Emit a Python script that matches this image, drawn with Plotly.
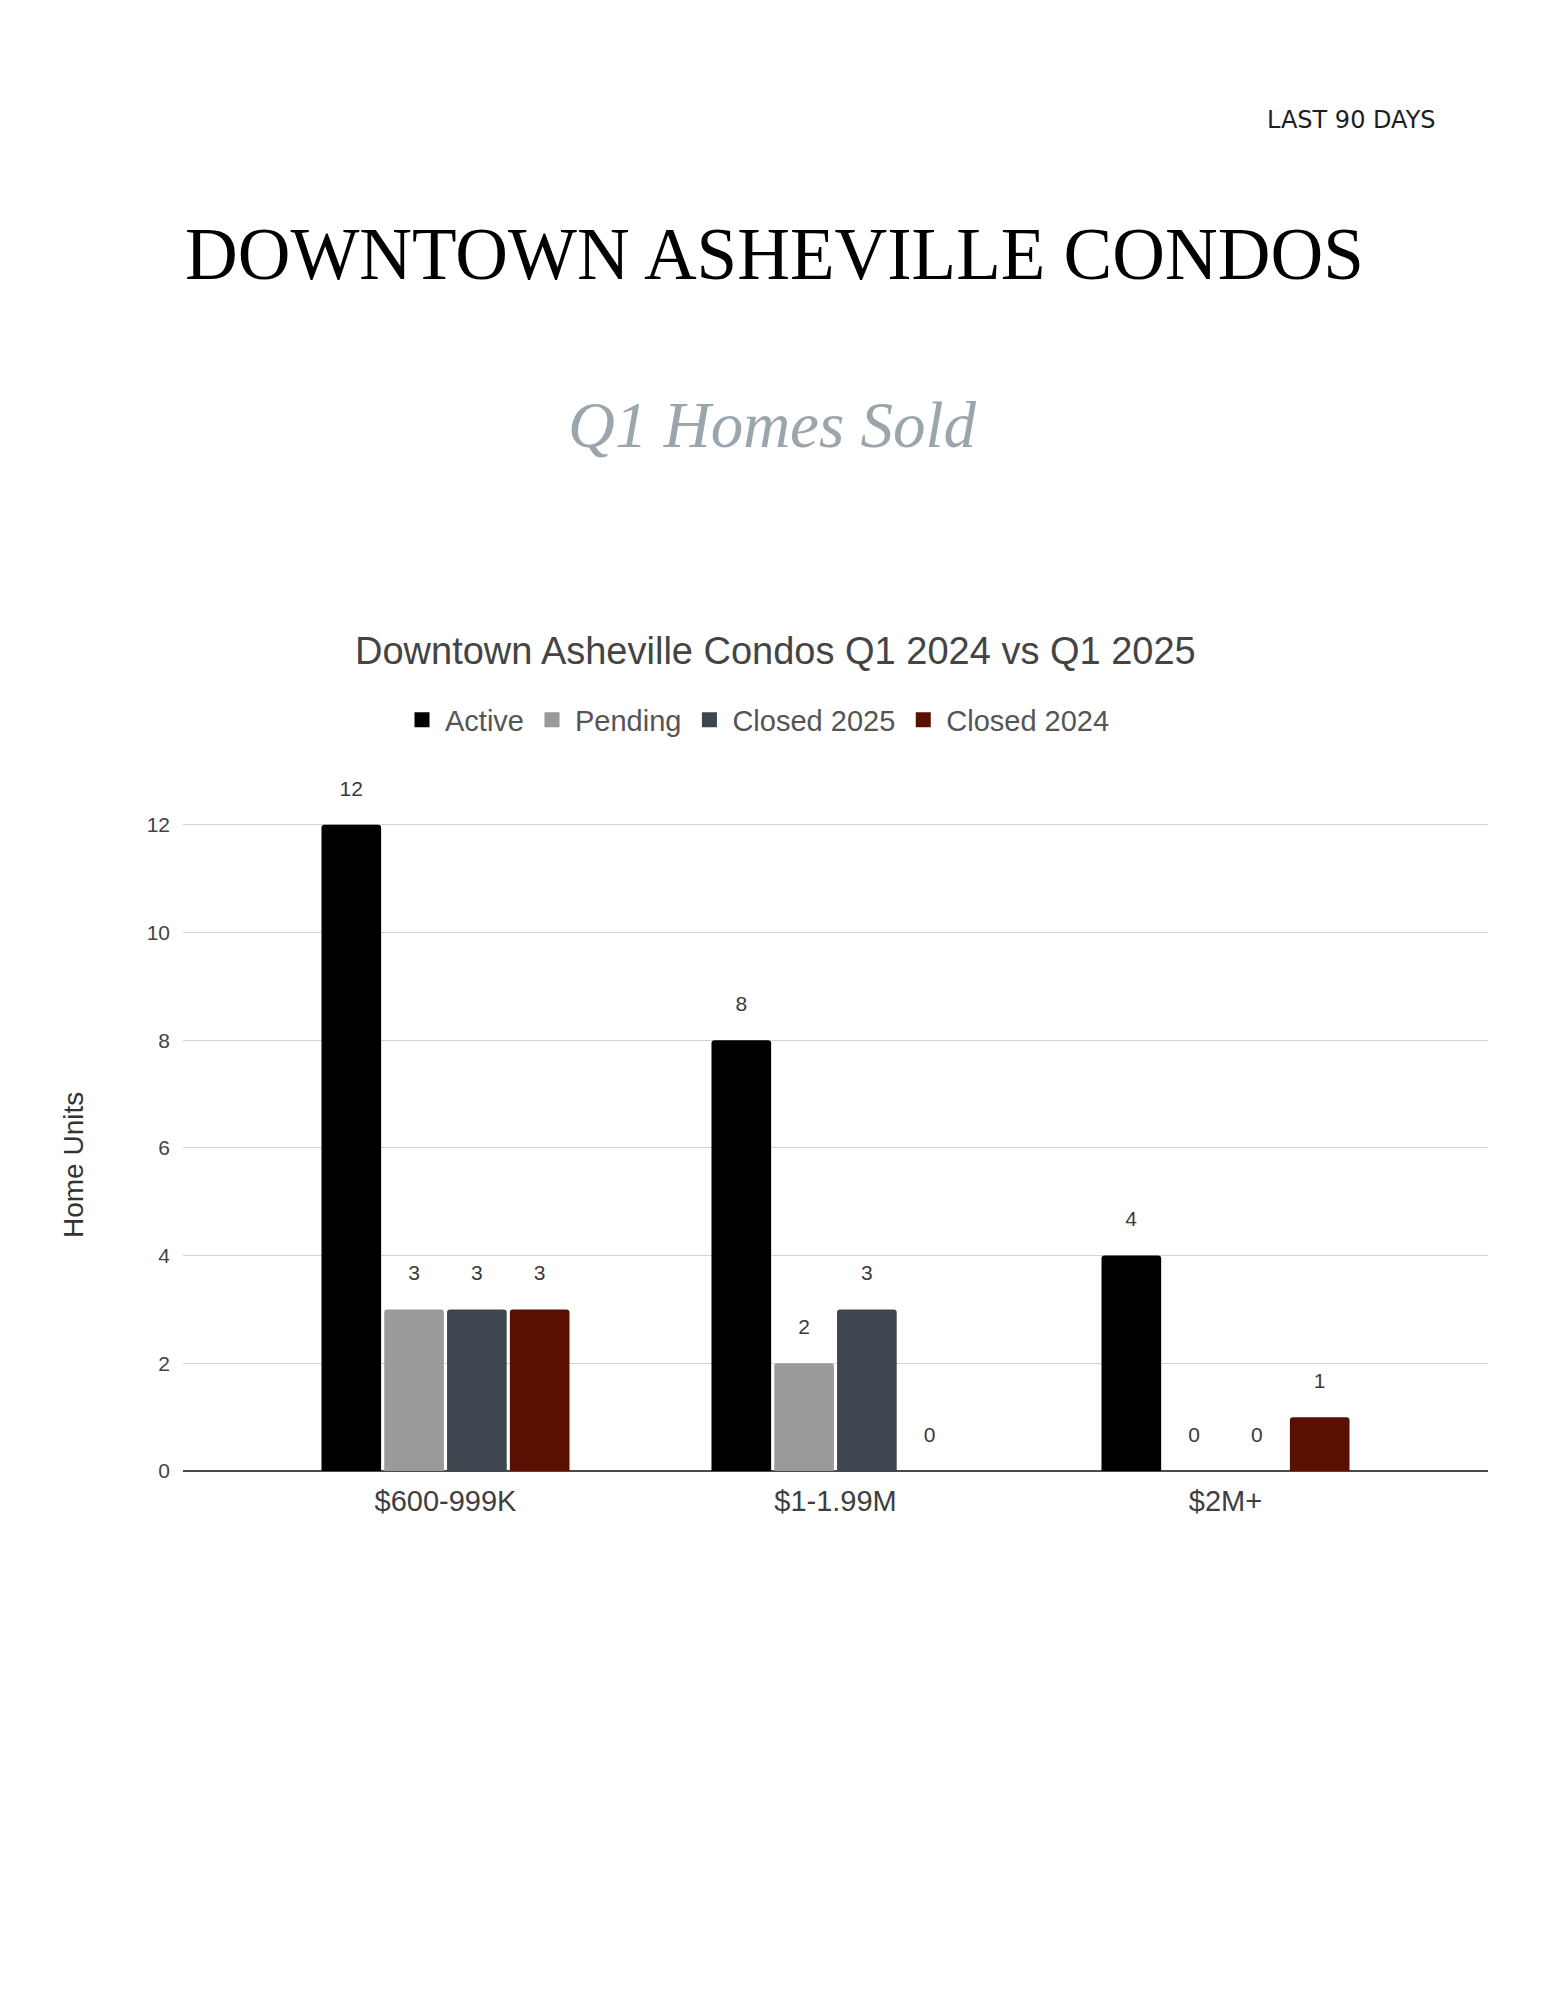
import plotly.graph_objects as go

# ---- data ----
categories = ["$600-999K", "$1-1.99M", "$2M+"]
active = [12, 8, 4]
pending = [3, 2, 0]
closed_2025 = [3, 3, 0]
closed_2024 = [3, 0, 1]

series_names = ["Active", "Pending", "Closed 2025", "Closed 2024"]
series_values = [active, pending, closed_2025, closed_2024]
series_colors = ["#000000", "#9a9a9a", "#3f4650", "#5a1000"]

y_ticks = [0, 2, 4, 6, 8, 10, 12]

# ---- layout geometry (page pixels) ----
OFF = 8
W, H = 1545 - 2 * OFF, 2000 - 2 * OFF
PL, PR, PT, PB = 183 - OFF, 1488 - OFF, 744 - OFF, 1471 - OFF


def px_x(x):
    return (x - OFF - PL) / (PR - PL)


def px_y(y):
    return (PB - (y - OFF)) / (PB - PT)


SANS = "Liberation Sans, Arial, sans-serif"
SERIF = "Liberation Serif, Times New Roman, serif"

fig = go.Figure()
for name, vals, col in zip(series_names, series_values, series_colors):
    fig.add_trace(go.Bar(
        name=name,
        x=categories,
        y=vals,
        marker=dict(color=col, line=dict(width=0), cornerradius=3),
        text=[f"<span style='font-size:21px'>{v}</span><br>\u00a0" for v in vals],
        texttemplate="%{text}",
        textposition="outside",
        outsidetextfont=dict(family=SANS, size=17, color="#3a3a3a"),
        cliponaxis=False,
        hoverinfo="skip",
        showlegend=False,
        legendgroup=name,
    ))
# legend entries (square swatches)
for name, col in zip(series_names, series_colors):
    fig.add_trace(go.Scatter(
        name=name,
        x=[None], y=[None],
        mode="markers",
        marker=dict(symbol="square", size=15, color=col, line=dict(width=0)),
        legendgroup=name,
        hoverinfo="skip",
    ))

annotations = [
    dict(text="LAST 90 DAYS", x=px_x(1438), y=px_y(120), xanchor="right", yanchor="middle",
         font=dict(family="DejaVu Sans, sans-serif", size=24, color="#1e1e1e")),
    dict(text="DOWNTOWN ASHEVILLE CONDOS", x=px_x(774), y=px_y(255), xanchor="center", yanchor="middle",
         font=dict(family=SERIF, size=73, color="#000000")),
    dict(text="Q1 Homes Sold", x=px_x(772), y=px_y(425), xanchor="center", yanchor="middle",
         font=dict(family=SERIF, size=65, color="#9ba5ac", style="italic")),
    dict(text="Downtown Asheville Condos Q1 2024 vs Q1 2025", x=px_x(775), y=px_y(651),
         xanchor="center", yanchor="middle",
         font=dict(family=SANS, size=38, color="#444444")),
    dict(text="Home Units", x=px_x(73), y=px_y(1165), xanchor="center", yanchor="middle", textangle=-90,
         font=dict(family=SANS, size=28, color="#333333")),
]
for a in annotations:
    a.update(xref="paper", yref="paper", showarrow=False)

fig.update_layout(
    width=W, height=H,
    margin=dict(l=PL, r=W - PR, t=PT, b=H - PB, pad=0),
    paper_bgcolor="#ffffff",
    plot_bgcolor="#ffffff",
    barmode="group",
    bargap=0.356,
    bargroupgap=0.05,
    showlegend=True,
    legend=dict(orientation="h", x=px_x(757), y=px_y(720), xanchor="center", yanchor="middle",
                font=dict(family=SANS, size=29, color="#555555"),
                itemwidth=36, traceorder="normal", bgcolor="rgba(0,0,0,0)"),
    annotations=annotations,
    xaxis=dict(
        type="category",
        range=[-0.673, 2.673],
        showgrid=False,
        showline=False,
        ticks="",
        ticklabelstandoff=10,
        tickfont=dict(family=SANS, size=29, color="#3e3e3e"),
        fixedrange=True,
    ),
    yaxis=dict(
        range=[0, 13.5],
        tickvals=y_ticks,
        ticktext=[str(t) for t in y_ticks],
        showgrid=True,
        gridcolor="#d3d3d3",
        gridwidth=1,
        zeroline=True,
        zerolinecolor="#4a4a4a",
        zerolinewidth=2,
        showline=False,
        ticks="",
        ticklabelstandoff=12,
        tickfont=dict(family=SANS, size=21, color="#444444"),
        fixedrange=True,
    ),
)

fig.write_html("out.html")
